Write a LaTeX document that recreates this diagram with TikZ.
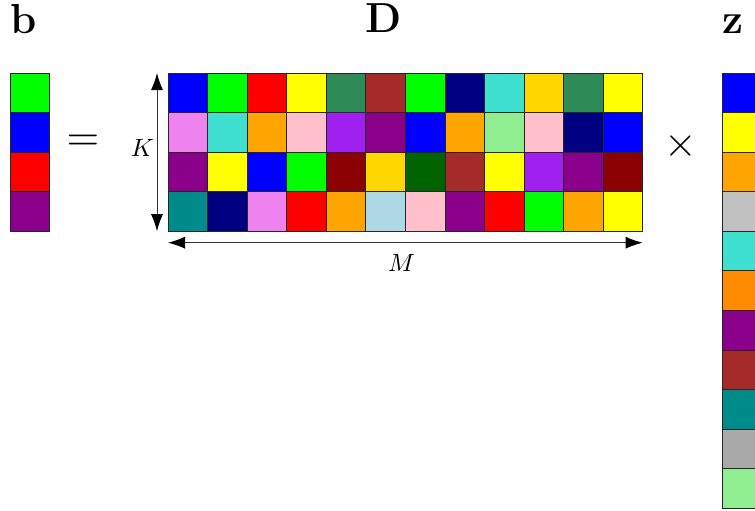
\documentclass[tikz,border=0pt]{standalone}
\usepackage{graphicx}
\usetikzlibrary{arrows.meta}
\definecolor{cBlue}{HTML}{0000FF}
\definecolor{cGreen}{HTML}{00FF00}
\definecolor{cRed}{HTML}{FF0000}
\definecolor{cYellow}{HTML}{FFFF00}
\definecolor{cSeaGreen}{HTML}{2E8B57}
\definecolor{cBrown}{HTML}{A52A2A}
\definecolor{cNavy}{HTML}{000080}
\definecolor{cTurq}{HTML}{40E0D0}
\definecolor{cGold}{HTML}{FFD700}
\definecolor{cViolet}{HTML}{EE82EE}
\definecolor{cOrange}{HTML}{FFA500}
\definecolor{cPink}{HTML}{FFC0CB}
\definecolor{cPurple}{HTML}{A020F0}
\definecolor{cDMag}{HTML}{8B008B}
\definecolor{cLGreen}{HTML}{90EE90}
\definecolor{cDRed}{HTML}{8B0000}
\definecolor{cDGreen}{HTML}{006400}
\definecolor{cDCyan}{HTML}{008B8B}
\definecolor{cLBlue}{HTML}{ADD8E6}
\definecolor{cSilver}{HTML}{C0C0C0}
\definecolor{cDOrange}{HTML}{FF8C00}
\definecolor{cDGray}{HTML}{A9A9A9}
\begin{document}
\begin{tikzpicture}[x=1pt,y=-1pt,
  cell/.style={draw=black!85,line width=0.7pt,minimum size=39.55pt,inner sep=0pt,outer sep=0pt,anchor=north west},
  biglabel/.style={inner sep=0pt,anchor=base,font=\fontsize{42}{50}\selectfont\bfseries},
  opsym/.style={inner sep=0pt},
  dimlabel/.style={inner sep=0pt,anchor=base},
  dimarrow/.style={black!80,line width=0.9pt,{Latex[length=17pt,width=12pt,black]}-{Latex[length=17pt,width=12pt,black]}}]
\useasboundingbox (0,0) rectangle (755,511);
\clip (0,0) rectangle (755,511);
\def\cs{39.55}
% b vector
\foreach \c [count=\i from 0] in {cGreen,cBlue,cRed,cDMag}{
  \node[cell,fill=\c] (b-\i) at (10,73+\i*\cs) {};
}
% D matrix
\foreach \row [count=\r from 0] in {
  {cBlue,cGreen,cRed,cYellow,cSeaGreen,cBrown,cGreen,cNavy,cTurq,cGold,cSeaGreen,cYellow},
  {cViolet,cTurq,cOrange,cPink,cPurple,cDMag,cBlue,cOrange,cLGreen,cPink,cNavy,cBlue},
  {cDMag,cYellow,cBlue,cGreen,cDRed,cGold,cDGreen,cBrown,cYellow,cPurple,cDMag,cDRed},
  {cDCyan,cNavy,cViolet,cRed,cOrange,cLBlue,cPink,cDMag,cRed,cGreen,cOrange,cYellow}}{
  \foreach \c [count=\k from 0] in \row {
    \node[cell,fill=\c] (d-\r-\k) at (168+\k*\cs,73+\r*\cs) {};
  }
}
% z vector
\foreach \c [count=\i from 0] in {cBlue,cYellow,cOrange,cSilver,cTurq,cDOrange,cDMag,cBrown,cDCyan,cDGray,cLGreen}{
  \node[cell,fill=\c] (z-\i) at (722,73+\i*\cs) {};
}
% labels
\node[biglabel] (lb) at (24,34) {b};
\node[biglabel] (lD) at (384,33) {D};
\node[biglabel] (lz) at (733,34) {z};
\node[opsym] (eq) at (83,143) {\scalebox{4.2}{$=$}};
\node[opsym] (times) at (681,146) {\scalebox{4.2}{$\times$}};
% dimension arrows
\coordinate (kt) at ([xshift=-11pt]d-0-0.north west);
\coordinate (kb) at ([xshift=-11pt]d-3-0.south west);
\draw[dimarrow] (kt) -- (kb);
\node[dimlabel] (K) at (142.5,156) {\scalebox{2.5}{$K$}};
\coordinate (ml) at ([yshift=-11.5pt]d-3-0.south west);
\coordinate (mr) at ([yshift=-11.5pt]d-3-11.south east);
\draw[dimarrow] (ml) -- (mr);
\node[dimlabel] (M) at (401.5,271) {\scalebox{2.5}{$M$}};
\end{tikzpicture}
\end{document}
